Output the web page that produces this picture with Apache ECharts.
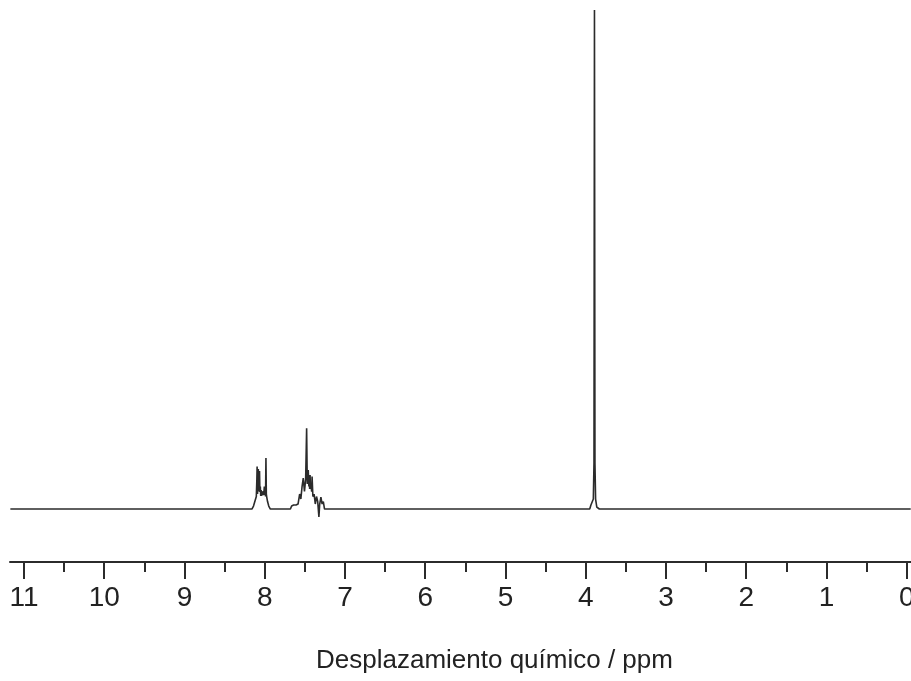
<!DOCTYPE html>
<html>
<head>
<meta charset="utf-8">
<script src="https://cdn.jsdelivr.net/npm/echarts@6/dist/echarts.min.js"></script>
<style>
  html, body { margin: 0; padding: 0; background: #fff; }
  #chart { width: 911px; height: 681px; }
</style>
</head>
<body>
<div id="chart"></div>
<script>
const ppm = [
  11.17, 8.16, 8.14, 8.12, 8.105, 8.098, 8.095, 8.09, 8.085, 8.08, 8.076, 8.072, 8.068, 8.065, 8.06, 8.055, 8.05, 8.045, 8.04, 8.035, 8.03,
  8.025, 8.02, 8.015, 8.01, 8.005, 8.0, 7.995, 7.99, 7.985, 7.98, 7.975, 7.965, 7.95, 7.93,
  7.68, 7.665, 7.64, 7.625, 7.61, 7.585, 7.565, 7.55, 7.535, 7.52, 7.505, 7.49, 7.478, 7.47, 7.465, 7.458, 7.45, 7.445, 7.44, 7.435,
  7.43, 7.425, 7.415, 7.41, 7.40, 7.385, 7.37, 7.355, 7.34, 7.325, 7.315, 7.30, 7.285, 7.27, 7.255,
  3.95, 3.935, 3.92, 3.905, 3.897, 3.891, 3.885, 3.877, 3.862, 3.848, 3.83,
  -0.05
];
const intensity = [
  0, 0, 0.6, 0.8, 2.5, 6.0, 8.5, 3.0, 5.0, 8.0, 3.5, 6.5, 4.0, 7.6, 3.4, 4.5, 2.6, 3.8, 2.6, 3.5, 3.8,
  2.8, 3.6, 2.8, 3.4, 4.5, 2.8, 3.6, 2.5, 10.2, 3.0, 2.4, 1.5, 0.6, 0,
  0, 0.6, 0.8, 1.2, 0.8, 1.0, 3.0, 2.0, 4.5, 6.2, 3.5, 6.0, 16.2, 5.0, 6.5, 7.8, 4.5, 6.0, 4.0, 6.8,
  4.0, 5.0, 3.5, 6.5, 2.5, 3.0, 1.0, 2.5, 1.5, -1.6, 1.0, 2.4, 1.0, 1.5, 0,
  0, 0.8, 0.4, 2.0, 9.2, 100, 9.2, 2.0, 0.4, 0.8, 0,
  0
];
const majorTicks = [0, 1, 2, 3, 4, 5, 6, 7, 8, 9, 10, 11];
const minorTicks = [0.5, 1.5, 2.5, 3.5, 4.5, 5.5, 6.5, 7.5, 8.5, 9.5, 10.5];
const axisTitle = 'Desplazamiento químico / ppm';

const myChart = echarts.init(document.getElementById('chart'));
const ink = '#2b2b2b';
const xMin = -0.0536, xMax = 11.1745;

myChart.setOption({
  animation: false,
  grid: { left: 10, right: 0, top: 10, bottom: 119, containLabel: false, outerBoundsMode: 'none' },
  xAxis: [
    {
      type: 'value',
      inverse: true,
      position: 'bottom',
      min: xMin,
      max: xMax,
      axisLine: { onZero: false, lineStyle: { color: ink, width: 2 } },
      axisTick: { customValues: majorTicks, length: 17, lineStyle: { color: ink, width: 2 } },
      axisLabel: {
        customValues: majorTicks,
        margin: 22,
        color: '#222',
        fontSize: 28,
        fontFamily: 'Liberation Sans',
        hideOverlap: false,
        showMinLabel: true,
        showMaxLabel: true
      },
      splitLine: { show: false }
    },
    {
      type: 'value',
      inverse: true,
      position: 'bottom',
      min: xMin,
      max: xMax,
      axisLine: { show: false, onZero: false },
      axisTick: { customValues: minorTicks, length: 10, lineStyle: { color: ink, width: 2 } },
      axisLabel: { show: false },
      splitLine: { show: false }
    }
  ],
  yAxis: {
    type: 'value',
    min: -10.62,
    max: 100,
    show: false
  },
  graphic: [{
    type: 'text',
    left: 316,
    top: 648,
    style: {
      text: axisTitle,
      fontSize: 26,
      fontFamily: 'Liberation Sans',
      fill: '#222'
    }
  }],
  series: [{
    type: 'line',
    data: ppm.map((p, i) => [p, intensity[i]]),
    showSymbol: false,
    sampling: 'none',
    lineStyle: { color: ink, width: 1.6 },
    clip: true
  }]
});
</script>
</body>
</html>
